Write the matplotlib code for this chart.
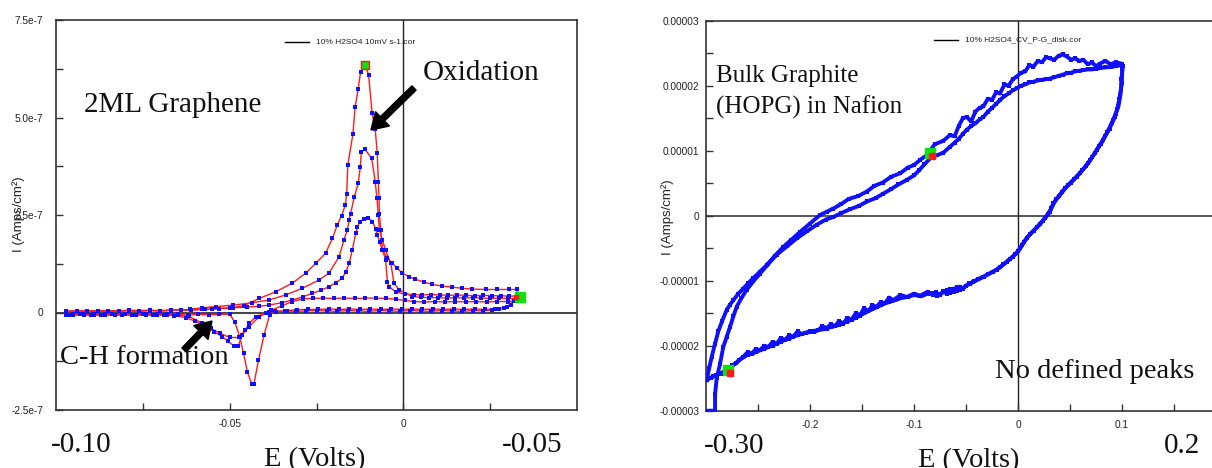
"""Two cyclic voltammograms side by side: 2ML graphene vs bulk graphite (HOPG)."""
import matplotlib

matplotlib.use("Agg")
import matplotlib.pyplot as plt
from matplotlib.lines import Line2D
from matplotlib.patches import FancyArrow

plt.rcParams["font.family"] = ["Liberation Sans", "DejaVu Sans"]
SERIF = ["Liberation Serif", "DejaVu Serif"]

# ---------------------------------------------------------------- data
# Left: 2ML graphene, 10% H2SO4, 10 mV/s.  E in V, current in 1e-7 A/cm2.
# cycle 1 (largest oxidation peak, deepest C-H dip)
e_g1 = [-0.097, -0.094, -0.091, -0.088, -0.085, -0.082, -0.079, -0.076, -0.073,
        -0.070, -0.067, -0.064, -0.061, -0.058, -0.055, -0.053, -0.050, -0.046,
        -0.0415, -0.0368, -0.032, -0.0281, -0.0252, -0.0224, -0.0204, -0.0190,
        -0.0178, -0.0167, -0.0163, -0.0160, -0.0145, -0.0139, -0.0130, -0.0123,
        -0.0110, -0.0100, -0.0090, -0.0081, -0.0075, -0.0072, -0.0070, -0.0069,
        -0.0065, -0.0060, -0.0051, -0.0046, -0.0041, -0.0022, 0.0005, 0.0030,
        0.0055, 0.0080, 0.0105, 0.0130, 0.0155, 0.0180, 0.0205, 0.0230, 0.0255,
        0.0280, 0.0305, 0.0326,
        0.0318, 0.0299, 0.0275, 0.0256, 0.0230, 0.0200, 0.0170, 0.0140, 0.0110,
        0.0080, 0.0050, 0.0020, -0.0010, -0.0040, -0.0070, -0.0100, -0.0130,
        -0.0160, -0.0190, -0.0220, -0.0250, -0.0280, -0.0310, -0.0340, -0.0370,
        -0.0385, -0.0401, -0.0417, -0.0430, -0.0437, -0.0449, -0.0460, -0.0471,
        -0.0485, -0.0500, -0.0530, -0.0560, -0.0590, -0.0620, -0.0650, -0.0680,
        -0.0710, -0.0740, -0.0770, -0.0800, -0.0830, -0.0860, -0.0890, -0.0920,
        -0.0950, -0.0970]
i_g1 = [0.03, 0.04, 0.02, 0.04, 0.03, 0.05, 0.04, 0.03, 0.05,
        0.04, 0.05, 0.06, 0.06, 0.08, 0.09, 0.10, 0.12, 0.17,
        0.36, 0.53, 0.75, 1.01, 1.26, 1.52, 1.90, 2.25,
        2.48, 2.75, 3.04, 3.78, 4.58, 5.26, 5.73, 6.17,
        6.35, 6.09, 5.11, 4.70, 4.08, 3.35, 2.93, 2.52,
        2.12, 1.60, 1.35, 0.79, 0.66, 0.53, 0.47, 0.46,
        0.45, 0.46, 0.45, 0.44, 0.45, 0.44, 0.43, 0.44, 0.43,
        0.43, 0.42, 0.42,
        0.30, 0.15, 0.08, 0.06, 0.04, 0.05, 0.03, 0.04, 0.05,
        0.03, 0.04, 0.05, 0.03, 0.04, 0.05, 0.03, 0.04,
        0.05, 0.03, 0.04, 0.05, 0.04, 0.03, 0.04, 0.03,
        -0.06, -0.58, -1.22, -1.83, -1.83, -1.52, -1.05, -0.62,
        -0.25, -0.04, -0.05, -0.06, -0.05, -0.07, -0.05, -0.06,
        -0.05, -0.07, -0.06, -0.05, -0.07, -0.06, -0.05, -0.07,
        -0.06, -0.05]

# cycle 2 (middle oxidation peak)
e_g2 = [-0.097, -0.094, -0.091, -0.088, -0.085, -0.082, -0.079, -0.076, -0.073,
        -0.070, -0.067, -0.064, -0.0615, -0.058, -0.054, -0.049, -0.0435,
        -0.0387, -0.0339, -0.0291, -0.0243, -0.0214, -0.0185, -0.0171, -0.0161,
        -0.0156, -0.0152, -0.0141, -0.0130, -0.0124, -0.0121, -0.0110, -0.0091,
        -0.0081, -0.0076, -0.0072, -0.0069, -0.0060, -0.0051, -0.0036, -0.0027,
        -0.0012, 0.0026, 0.0050, 0.0074, 0.0100, 0.0125, 0.0150, 0.0175, 0.0200,
        0.0225, 0.0250, 0.0275, 0.0300, 0.0330,
        0.0325, 0.0300, 0.0270, 0.0240, 0.0210, 0.0180, 0.0150, 0.0120, 0.0090,
        0.0060, 0.0030, 0.0005, -0.0020, -0.0050, -0.0080, -0.0110, -0.0140,
        -0.0170, -0.0200, -0.0230, -0.0260, -0.0290, -0.0320, -0.0350, -0.0380,
        -0.0387, -0.0415, -0.0444, -0.0465, -0.0475, -0.0487, -0.0505, -0.0521,
        -0.0545, -0.0569, -0.0600, -0.0627, -0.0660, -0.0690, -0.0720, -0.0750,
        -0.0780, -0.0810, -0.0840, -0.0870, -0.0900, -0.0930, -0.0960, -0.0970]
i_g2 = [0.02, 0.03, 0.04, 0.03, 0.04, 0.03, 0.05, 0.04, 0.05,
        0.04, 0.06, 0.06, 0.08, 0.12, 0.15, 0.19, 0.25,
        0.32, 0.45, 0.62, 0.83, 1.01, 1.43, 1.86, 2.12,
        2.37, 2.53, 2.97, 3.31, 3.72, 4.12, 4.18, 3.95,
        3.35, 2.93, 2.50, 2.12, 1.85, 1.60, 1.26, 0.75,
        0.58, 0.41, 0.39, 0.38, 0.38, 0.37, 0.38, 0.37, 0.38,
        0.37, 0.36, 0.37, 0.36, 0.35,
        0.30, 0.28, 0.28, 0.27, 0.28, 0.27, 0.28, 0.27, 0.28,
        0.27, 0.28, 0.31, 0.34, 0.36, 0.37, 0.37, 0.36,
        0.37, 0.36, 0.37, 0.36, 0.35, 0.28, 0.17, 0.06,
        0.02, -0.11, -0.36, -0.58, -0.86, -0.86, -0.74, -0.62,
        -0.49, -0.36, -0.22, -0.13, -0.08, -0.06, -0.07, -0.05,
        -0.07, -0.06, -0.05, -0.07, -0.06, -0.05, -0.07, -0.06]

# cycle 3 (smallest oxidation peak)
e_g3 = [-0.097, -0.094, -0.091, -0.088, -0.085, -0.082, -0.079, -0.076, -0.073,
        -0.070, -0.067, -0.064, -0.061, -0.057, -0.053, -0.049, -0.045, -0.0415,
        -0.0387, -0.035, -0.032, -0.029, -0.0262, -0.0238, -0.0214, -0.0195,
        -0.0176, -0.0165, -0.0156, -0.0147, -0.0137, -0.0132, -0.0125, -0.0113,
        -0.0101, -0.0089, -0.0080, -0.0075, -0.0068, -0.0060, -0.0046, -0.0032,
        -0.0017, -0.0003, 0.0016, 0.0035, 0.0060, 0.0083, 0.0110, 0.0141, 0.0170,
        0.0199, 0.0237, 0.0270, 0.0304, 0.0328,
        0.0326, 0.0310, 0.0290, 0.0265, 0.0235, 0.0205, 0.0175, 0.0145, 0.0115,
        0.0085, 0.0055, 0.0025, -0.0005, -0.0035, -0.0065, -0.0095, -0.0125,
        -0.0155, -0.0185, -0.0215, -0.0245, -0.0275, -0.0305, -0.0335, -0.0367,
        -0.0396, -0.0425, -0.0444, -0.0455, -0.0473, -0.0500, -0.0529, -0.0555,
        -0.0580, -0.0617, -0.0650, -0.0680, -0.0710, -0.0740, -0.0770, -0.0800,
        -0.0830, -0.0860, -0.0890, -0.0920, -0.0950, -0.0970]
i_g3 = [0.04, 0.03, 0.05, 0.04, 0.05, 0.04, 0.06, 0.05, 0.06,
        0.05, 0.06, 0.07, 0.07, 0.08, 0.10, 0.12, 0.14, 0.16,
        0.19, 0.25, 0.32, 0.40, 0.49, 0.57, 0.66, 0.76,
        0.88, 1.05, 1.26, 1.60, 2.03, 2.20, 2.33, 2.40,
        2.43, 2.33, 2.15, 1.99, 1.80, 1.60, 1.40, 1.26,
        1.13, 1.01, 0.92, 0.85, 0.78, 0.72, 0.68, 0.65, 0.62,
        0.60, 0.59, 0.59, 0.59, 0.59,
        0.45, 0.20, 0.12, 0.09, 0.08, 0.09, 0.08, 0.09, 0.08,
        0.09, 0.08, 0.09, 0.08, 0.09, 0.08, 0.09, 0.08,
        0.09, 0.08, 0.09, 0.08, 0.08, 0.07, 0.05, 0.02,
        0.00, -0.11, -0.28, -0.45, -0.64, -0.64, -0.53, -0.40,
        -0.27, -0.10, -0.06, -0.05, -0.06, -0.04, -0.06, -0.05,
        -0.06, -0.05, -0.06, -0.05, -0.05, -0.04]

# Right: bulk graphite (HOPG) in Nafion.  E in V, current in 1e-5 A/cm2.
e_h1 = [-0.2993, -0.2970, -0.2945, -0.2915, -0.2882, -0.2845, -0.2801, -0.2770,
        -0.2737, -0.2690, -0.2641, -0.2595, -0.2545, -0.2480, -0.2416, -0.2340,
        -0.2257, -0.2180, -0.2096, -0.2000, -0.1904, -0.1840, -0.1776, -0.1700,
        -0.1625, -0.1540, -0.1455, -0.1380, -0.1300, -0.1220, -0.1135, -0.1060,
        -0.1000, -0.0940, -0.0878, -0.0800, -0.0720, -0.0654, -0.0610, -0.0570,
        -0.0530, -0.0493, -0.0450, -0.0410, -0.0370, -0.0333, -0.0290, -0.0250,
        -0.0210, -0.0173, -0.0130, -0.0090, -0.0050, -0.0013, 0.0030, 0.0070,
        0.0110, 0.0147, 0.0190, 0.0230, 0.0270, 0.0308, 0.0350, 0.0390, 0.0430,
        0.0468, 0.0510, 0.0550, 0.0590, 0.0628, 0.0670, 0.0710, 0.0750, 0.0788,
        0.0840, 0.0890, 0.0940, 0.0997,
        0.1006, 0.1000, 0.0997, 0.0985, 0.0965, 0.0940, 0.0917, 0.0880, 0.0837,
        0.0800, 0.0757, 0.0716, 0.0676, 0.0620, 0.0564, 0.0510, 0.0452, 0.0395,
        0.0339, 0.0308, 0.0260, 0.0212, 0.0150, 0.0084, 0.0040, 0.0003, -0.0050,
        -0.0109, -0.0170, -0.0238, -0.0290, -0.0333, -0.0380, -0.0429, -0.0470,
        -0.0500, -0.0530, -0.0558, -0.0590, -0.0620, -0.0650, -0.0686, -0.0720,
        -0.0750, -0.0790, -0.0814, -0.0870, -0.0940, -0.1000, -0.1070, -0.1130,
        -0.1199, -0.1240, -0.1280, -0.1320, -0.1359, -0.1400, -0.1440, -0.1480,
        -0.1519, -0.1560, -0.1600, -0.1640, -0.1680, -0.1720, -0.1760, -0.1800,
        -0.1840, -0.1880, -0.1920, -0.1960, -0.2000, -0.2040, -0.2080, -0.2120,
        -0.2160, -0.2200, -0.2240, -0.2280, -0.2320, -0.2360, -0.2400, -0.2440,
        -0.2481, -0.2520, -0.2560, -0.2600, -0.2641, -0.2680, -0.2710, -0.2750,
        -0.2785, -0.2830, -0.2865, -0.2900, -0.2930, -0.2962, -0.3000]
i_h1 = [-2.53, -2.35, -2.17, -1.98, -1.78, -1.62, -1.45, -1.37,
        -1.30, -1.20, -1.12, -1.04, -0.96, -0.86, -0.76, -0.62,
        -0.48, -0.37, -0.25, -0.12, 0.01, 0.06, 0.11, 0.18,
        0.26, 0.30, 0.37, 0.46, 0.51, 0.60, 0.65, 0.74,
        0.78, 0.86, 0.93, 1.10, 1.15, 1.24, 1.22, 1.38,
        1.50, 1.52, 1.45, 1.60, 1.66, 1.68, 1.80, 1.78,
        1.90, 1.88, 2.02, 2.00, 2.10, 2.14, 2.20, 2.22,
        2.32, 2.29, 2.38, 2.36, 2.44, 2.42, 2.40, 2.46, 2.48,
        2.45, 2.40, 2.42, 2.38, 2.40, 2.33, 2.36, 2.30, 2.34,
        2.38, 2.33, 2.36, 2.34,
        2.30, 2.15, 2.04, 1.86, 1.68, 1.57, 1.47, 1.34, 1.22,
        1.11, 1.01, 0.91, 0.81, 0.70, 0.60, 0.51, 0.42, 0.30,
        0.19, 0.06, -0.04, -0.13, -0.23, -0.34, -0.45, -0.55, -0.63,
        -0.71, -0.79, -0.86, -0.90, -0.94, -0.97, -1.02, -1.04,
        -1.08, -1.12, -1.14, -1.10, -1.17, -1.13, -1.20, -1.16,
        -1.22, -1.18, -1.22, -1.17, -1.23, -1.20, -1.25, -1.22,
        -1.30, -1.26, -1.35, -1.33, -1.40, -1.38, -1.47, -1.42,
        -1.53, -1.50, -1.60, -1.57, -1.66, -1.62, -1.70, -1.67,
        -1.73, -1.70, -1.76, -1.79, -1.78, -1.80, -1.82, -1.78,
        -1.86, -1.84, -1.91, -1.88, -1.97, -1.94, -2.02, -2.00,
        -2.07, -2.05, -2.12, -2.10, -2.17, -2.22, -2.27, -2.30,
        -2.38, -2.40, -2.43, -2.45, -2.47, -2.50, -2.53]

e_h2 = [-0.3000, -0.2913, -0.2913, -0.2897, -0.2865, -0.2834, -0.2800, -0.2769,
        -0.2737, -0.2705, -0.2660, -0.2609, -0.2545, -0.2481, -0.2400, -0.2320,
        -0.2220, -0.2128, -0.2030, -0.1936, -0.1850, -0.1776, -0.1700, -0.1615,
        -0.1530, -0.1450, -0.1370, -0.1295, -0.1220, -0.1150, -0.1070, -0.1000,
        -0.0950, -0.0900, -0.0846, -0.0780, -0.0718, -0.0654, -0.0610, -0.0570,
        -0.0530, -0.0493, -0.0450, -0.0410, -0.0370, -0.0333, -0.0290, -0.0250,
        -0.0210, -0.0173, -0.0130, -0.0090, -0.0050, -0.0013, 0.0030, 0.0070,
        0.0110, 0.0147, 0.0190, 0.0230, 0.0270, 0.0308, 0.0350, 0.0390, 0.0430,
        0.0468, 0.0510, 0.0550, 0.0590, 0.0628, 0.0670, 0.0710, 0.0750, 0.0788,
        0.0840, 0.0890, 0.0940, 0.0997,
        0.1003, 0.0995, 0.0990, 0.0975, 0.0955, 0.0928, 0.0900, 0.0860, 0.0818,
        0.0778, 0.0737, 0.0696, 0.0650, 0.0592, 0.0537, 0.0480, 0.0425, 0.0365,
        0.0322, 0.0285, 0.0236, 0.0180, 0.0118, 0.0060, 0.0020, -0.0025, -0.0080,
        -0.0140, -0.0205, -0.0285, -0.0330, -0.0380, -0.0420, -0.0465, -0.0500,
        -0.0530, -0.0560, -0.0590, -0.0620, -0.0650, -0.0680, -0.0720, -0.0750,
        -0.0780, -0.0820, -0.0870, -0.0930, -0.1000, -0.1060, -0.1130, -0.1180,
        -0.1240, -0.1280, -0.1320, -0.1360, -0.1400, -0.1440, -0.1480, -0.1520,
        -0.1560, -0.1600, -0.1640, -0.1680, -0.1720, -0.1760, -0.1800, -0.1840,
        -0.1880, -0.1920, -0.1960, -0.2000, -0.2040, -0.2080, -0.2120, -0.2160,
        -0.2200, -0.2240, -0.2280, -0.2320, -0.2360, -0.2400, -0.2440, -0.2480,
        -0.2520, -0.2560, -0.2600, -0.2640, -0.2680, -0.2715, -0.2750, -0.2785,
        -0.2820, -0.2860, -0.2900, -0.2950, -0.2995]
i_h2 = [-3.00, -3.00, -2.75, -2.50, -2.28, -2.02, -1.86, -1.71,
        -1.55, -1.40, -1.27, -1.14, -1.01, -0.89, -0.74, -0.60,
        -0.47, -0.35, -0.24, -0.14, -0.06, -0.02, 0.04, 0.10,
        0.15, 0.22, 0.27, 0.34, 0.41, 0.48, 0.55, 0.62,
        0.70, 0.79, 0.88, 0.93, 0.97, 1.06, 1.12, 1.18,
        1.26, 1.32, 1.38, 1.42, 1.48, 1.52, 1.60, 1.66,
        1.72, 1.78, 1.84, 1.88, 1.93, 1.96, 2.00, 2.02,
        2.05, 2.06, 2.08, 2.09, 2.10, 2.11, 2.13, 2.15, 2.17,
        2.19, 2.20, 2.22, 2.23, 2.24, 2.25, 2.25, 2.26, 2.27,
        2.28, 2.29, 2.30, 2.32,
        2.26, 2.10, 1.95, 1.80, 1.64, 1.52, 1.42, 1.29, 1.17,
        1.07, 0.96, 0.86, 0.76, 0.65, 0.56, 0.47, 0.37, 0.25,
        0.12, 0.02, -0.08, -0.18, -0.28, -0.40, -0.50, -0.59, -0.67,
        -0.75, -0.83, -0.90, -0.94, -0.98, -1.01, -1.05, -1.08,
        -1.12, -1.09, -1.16, -1.12, -1.19, -1.14, -1.18, -1.21,
        -1.23, -1.19, -1.20, -1.24, -1.22, -1.25, -1.27, -1.30,
        -1.33, -1.35, -1.38, -1.41, -1.44, -1.47, -1.50, -1.54,
        -1.57, -1.60, -1.63, -1.65, -1.68, -1.70, -1.71, -1.74,
        -1.75, -1.76, -1.77, -1.79, -1.80, -1.82, -1.84, -1.86,
        -1.89, -1.91, -1.94, -1.97, -2.00, -2.02, -2.05, -2.07,
        -2.10, -2.12, -2.14, -2.18, -2.22, -2.27, -2.32, -2.36,
        -2.41, -2.43, -2.45, -2.49, -2.52]

# highlighted (cursor) points
mark_g = [(-0.0110, 6.35), (0.0335, 0.40)]
mark_h = [(-0.0850, 0.96), (-0.2785, -2.38)]

# ---------------------------------------------------------------- figure
W, H = 1212, 468
fig = plt.figure(figsize=(W / 100, H / 100), dpi=100)


def px_axes(left, top, right, bottom):
    return fig.add_axes([left / W, 1 - bottom / H, (right - left) / W,
                         (bottom - top) / H])


def fx(x):
    return x / W


def fy(y):
    return 1 - y / H


RED, BLUE, GREEN = "#ff1a1a", "#1010ff", "#10e010"

axL = px_axes(56, 20, 577, 410)
axR = px_axes(706, 20.7, 1226, 410.7)

# left: graphene
for e, i in [(e_g1, i_g1), (e_g2, i_g2), (e_g3, i_g3)]:
    cur = [v * 1e-7 for v in i]
    axL.plot(e, cur, color=RED, lw=1.0, zorder=3)
    axL.plot(e, cur, "s", color=BLUE, ms=2.5, mew=0, zorder=4)
axL.plot(mark_g[0][0], mark_g[0][1] * 1e-7, "s", ms=6, mfc=GREEN, mec=RED,
         mew=1.0, zorder=5)
axL.plot(mark_g[1][0], mark_g[1][1] * 1e-7, "s", ms=6.5, mfc=GREEN, mec=GREEN,
         zorder=5)
axL.plot(mark_g[1][0] - 0.0012, mark_g[1][1] * 1e-7, "s", ms=3, mfc=RED,
         mec=RED, zorder=6)

axL.set_xlim(-0.1, 0.05)
axL.set_ylim(-2.5e-7, 7.5e-7)
axL.set_xticks([-0.05, 0], ["-0.05", "0"])
axL.set_xticks([-0.075, -0.025, 0.025], minor=True)
axL.set_yticks([-2.5e-7, 0, 2.5e-7, 5e-7, 7.5e-7],
               ["-2.5e-7", "0", "2.5e-7", "5.0e-7", "7.5e-7"])
axL.set_yticks([-1.25e-7, 1.25e-7, 3.75e-7, 6.25e-7], minor=True)
axL.axhline(0, color="#444", lw=1.4, zorder=1)
axL.axvline(0, color="#222", lw=1.0, zorder=1)

# right: HOPG
for e, i in [(e_h1, i_h1), (e_h2, i_h2)]:
    cur = [v * 1e-5 for v in i]
    axR.plot(e, cur, color=BLUE, lw=2.8, zorder=3)
    axR.plot(e, cur, "s", color=BLUE, ms=3.2, mew=0, zorder=4)
    axR.plot(e, cur, color=RED, lw=0.6, zorder=2)
for (e, i) in mark_h:
    axR.plot(e, i * 1e-5, "s", ms=6.5, mfc=GREEN, mec=GREEN, zorder=5)
    axR.plot(e + 0.002, i * 1e-5 - 0.04e-5, "s", ms=4, mfc=RED, mec=RED,
             zorder=6)

axR.set_xlim(-0.3, 0.2)
axR.set_ylim(-3e-5, 3e-5)
axR.set_xticks([-0.2, -0.1, 0, 0.1], ["-0.2", "-0.1", "0", "0.1"])
axR.set_xticks([-0.25, -0.15, -0.05, 0.05, 0.15], minor=True)
axR.set_yticks([-3e-5, -2e-5, -1e-5, 0, 1e-5, 2e-5, 3e-5],
               ["-0.00003", "-0.00002", "-0.00001", "0", "0.00001", "0.00002",
                "0.00003"])
axR.set_yticks([-2.5e-5, -1.5e-5, -0.5e-5, 0.5e-5, 1.5e-5, 2.5e-5], minor=True)
axR.axhline(0, color="#555", lw=1.4, zorder=1)
axR.axvline(0, color="#222", lw=1.0, zorder=1)

for ax, ypad in [(axL, 9.0), (axR, 5.0)]:
    ax.tick_params(which="both", direction="in", length=5, width=1,
                   color="#333", labelcolor="#222", labelsize=7.3)
    ax.tick_params(axis="y", which="both", pad=ypad)
    ax.tick_params(axis="x", which="both", pad=6.5)
    for sp in ax.spines.values():
        sp.set_color("#333")
        sp.set_linewidth(1.2)

# legends (single black line + file name)
for x0, x1, y, label in [(285, 309, 42, "10% H2SO4 10mV s-1.cor"),
                         (934, 958, 40, "10% H2SO4_CV_P-G_disk.cor")]:
    fig.add_artist(Line2D([fx(x0), fx(x1)], [fy(y), fy(y)], color="k", lw=1))
    fig.text(fx(x1 + 7), fy(y), label, fontsize=6, va="center", ha="left",
             color="#222")

# y labels
for x, y in [(19, 214), (668, 217)]:
    fig.text(fx(x), fy(y), "I (Amps/cm²)", rotation=90, ha="center",
             va="center", fontsize=9.5, color="#222")

# big serif annotations
big = [
    (84, 112, "2ML Graphene", 21),
    (423, 80, "Oxidation", 21),
    (60, 364, "C-H formation", 20.5),
    (51, 452, "-0.10", 21),
    (502, 452, "-0.05", 21),
    (264, 466, "E (Volts)", 20.5),
    (716, 81.7, "Bulk Graphite", 18),
    (716, 113.3, "(HOPG) in Nafion", 18),
    (995, 378, "No defined peaks", 20.5),
    (704, 452.7, "-0.30", 21),
    (1164, 452.7, "0.2", 21),
    (918, 467, "E (Volts)", 20.5),
]
for x, y, txt, fs in big:
    fig.text(fx(x), fy(y), txt, fontsize=fs, family=SERIF, ha="left",
             va="baseline", color="#111")

# thick arrows, drawn in inches from pixel positions
for (x0, y0), (x1, y1) in [((414, 88), (371, 130)), ((184, 350), (212, 321))]:
    arr = FancyArrow(x0 / 100, (H - y0) / 100, (x1 - x0) / 100,
                     (y0 - y1) / 100, width=0.06, head_width=0.2,
                     head_length=0.16, length_includes_head=True, color="k",
                     transform=fig.dpi_scale_trans)
    fig.add_artist(arr)

fig.savefig("out.png", dpi=100)
